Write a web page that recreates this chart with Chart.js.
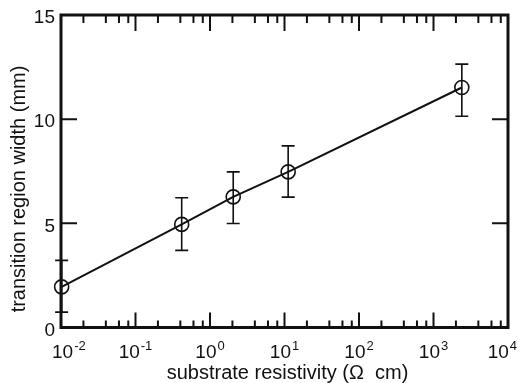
<!DOCTYPE html>
<html lang="en">
<head>
    <meta charset="UTF-8">
    <title>Transition region width vs substrate resistivity</title>
    <script src="https://cdn.jsdelivr.net/npm/chart.js"></script>
    <style>
        html, body {
            margin: 0;
            padding: 0;
            background: #ffffff;
        }
        #resChart {
            display: block;
        }
    </style>
</head>
<body>
    <canvas id="resChart" width="518" height="383"></canvas>
    <script>
        // data
        const resistivity = [0.0102, 0.417, 2.05, 11.2, 2400];
        const regionWidth = [1.95, 4.95, 6.27, 7.47, 11.52];
        const widthLow = [0.74, 3.70, 4.99, 6.26, 10.14];
        const widthHigh = [3.22, 6.23, 7.47, 8.72, 12.64];

        const xDecades = [-2, -1, 0, 1, 2, 3, 4];
        const xMinorSteps = [2, 4, 6, 8];
        const yTicks = [0, 5, 10, 15];

        const xTitle = 'substrate resistivity (\u03A9  cm)';
        const yTitle = 'transition region width (mm)';

        const ink = '#111111';
        const fontFam = '"Liberation Sans", Arial, sans-serif';

        // frame, inward ticks, labels and error bars
        const framePlugin = {
            id: 'framePlugin',
            afterDatasetsDraw(chart) {
                const ctx = chart.ctx;
                const xs = chart.scales.x, ys = chart.scales.y;
                ctx.save();
                ctx.strokeStyle = ink;
                ctx.lineWidth = 1.6;
                resistivity.forEach((r, i) => {
                    const px = xs.getPixelForValue(r);
                    const lo = ys.getPixelForValue(widthLow[i]);
                    const hi = ys.getPixelForValue(widthHigh[i]);
                    ctx.beginPath();
                    ctx.moveTo(px, lo); ctx.lineTo(px, hi);
                    ctx.moveTo(px - 6.5, lo); ctx.lineTo(px + 6.5, lo);
                    ctx.moveTo(px - 6.5, hi); ctx.lineTo(px + 6.5, hi);
                    ctx.stroke();
                });
                ctx.restore();
            },
            afterDraw(chart) {
                const ctx = chart.ctx;
                const a = chart.chartArea;
                const xs = chart.scales.x, ys = chart.scales.y;
                ctx.save();

                // ticks on all four sides
                ctx.strokeStyle = ink;
                ctx.lineWidth = 2;
                ctx.beginPath();
                xDecades.forEach(d => {
                    const px = xs.getPixelForValue(Math.pow(10, d));
                    ctx.moveTo(px, a.bottom); ctx.lineTo(px, a.bottom - 15);
                    ctx.moveTo(px, a.top); ctx.lineTo(px, a.top + 16);
                    if (d < 4) {
                        xMinorSteps.forEach(m => {
                            const mx = xs.getPixelForValue(m * Math.pow(10, d));
                            ctx.moveTo(mx, a.bottom); ctx.lineTo(mx, a.bottom - 7);
                            ctx.moveTo(mx, a.top); ctx.lineTo(mx, a.top + 8);
                        });
                    }
                });
                yTicks.forEach(v => {
                    const py = ys.getPixelForValue(v);
                    ctx.moveTo(a.left, py); ctx.lineTo(a.left + 16, py);
                    ctx.moveTo(a.right, py); ctx.lineTo(a.right - 16, py);
                });
                ctx.stroke();

                // frame
                ctx.lineWidth = 3;
                ctx.strokeRect(a.left, a.top, a.right - a.left, a.bottom - a.top);

                // y tick labels
                ctx.fillStyle = ink;
                ctx.font = '19px ' + fontFam;
                ctx.textAlign = 'right';
                ctx.textBaseline = 'middle';
                yTicks.forEach(v => {
                    ctx.fillText(String(v), a.left - 6, ys.getPixelForValue(v) + 3);
                });

                // x tick labels as 10 with raised exponent
                ctx.textAlign = 'left';
                ctx.textBaseline = 'alphabetic';
                xDecades.forEach(d => {
                    const px = xs.getPixelForValue(Math.pow(10, d));
                    ctx.font = '19px ' + fontFam;
                    const wBase = ctx.measureText('10').width;
                    ctx.font = '13px ' + fontFam;
                    const wExp = ctx.measureText(String(d)).width;
                    const w = wBase + wExp + 1;
                    let left = px - w / 2;
                    left = Math.max(left, 52);
                    left = Math.min(left, 517 - w);
                    ctx.font = '19px ' + fontFam;
                    ctx.fillText('10', left, 358);
                    ctx.font = '13px ' + fontFam;
                    ctx.fillText(String(d), left + wBase + 1, 350);
                });

                // axis titles
                ctx.font = '20px ' + fontFam;
                ctx.textAlign = 'center';
                ctx.fillText(xTitle, (a.left + a.right) / 2 + 3, 379);

                ctx.translate(25, 189);
                ctx.rotate(-Math.PI / 2);
                ctx.fillText(yTitle, 0, 0);

                ctx.restore();
            }
        };

        new Chart(document.getElementById('resChart'), {
            type: 'scatter',
            data: {
                datasets: [{
                    data: resistivity.map((r, i) => ({ x: r, y: regionWidth[i] })),
                    showLine: true,
                    borderColor: ink,
                    borderWidth: 2,
                    pointRadius: 7,
                    pointBorderWidth: 1.6,
                    pointBorderColor: ink,
                    pointBackgroundColor: 'rgba(0,0,0,0)',
                    clip: false
                }]
            },
            options: {
                responsive: false,
                animation: false,
                layout: {
                    padding: { left: 61, right: 10, top: 15, bottom: 55.5 }
                },
                plugins: {
                    legend: { display: false },
                    tooltip: { enabled: false }
                },
                scales: {
                    x: {
                        type: 'logarithmic',
                        min: 0.01,
                        max: 10000,
                        display: false
                    },
                    y: {
                        type: 'linear',
                        min: 0,
                        max: 15,
                        display: false
                    }
                }
            },
            plugins: [framePlugin]
        });
    </script>
</body>
</html>
